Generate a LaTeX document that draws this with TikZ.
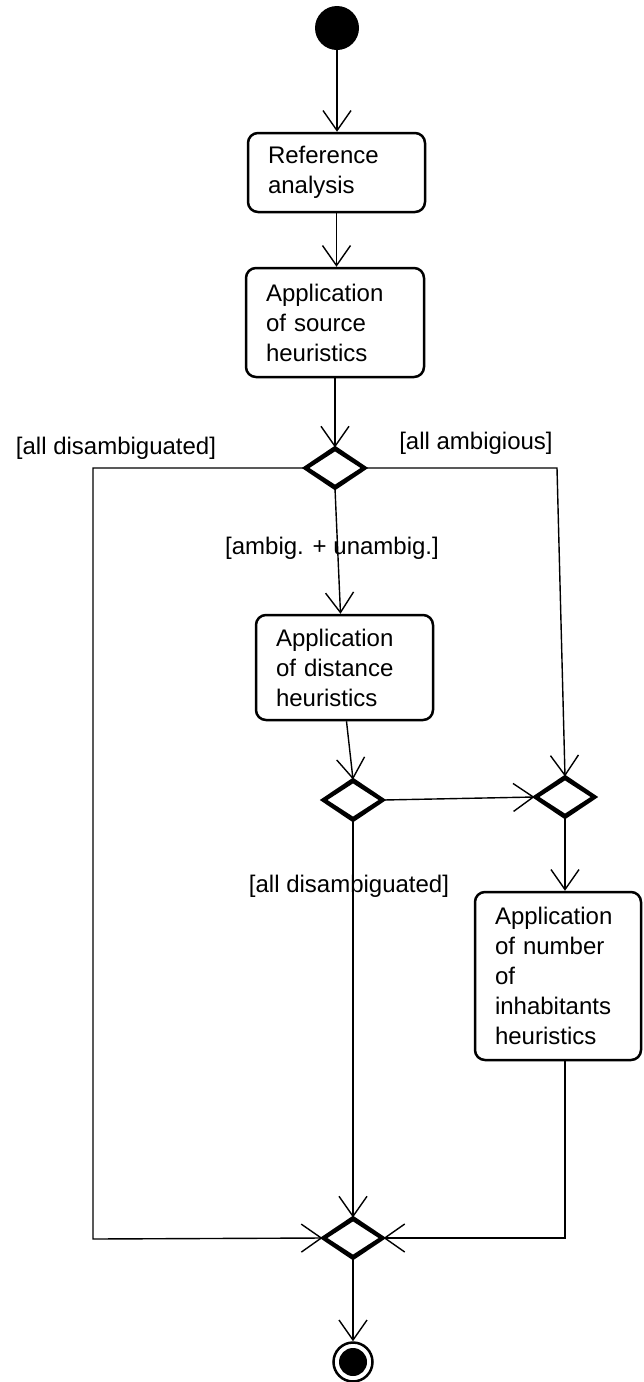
\documentclass[tikz,border=0pt]{standalone}
\usepackage{fontspec}
\setmainfont{Liberation Sans}
\usetikzlibrary{shapes.geometric,arrows.meta,calc}
\begin{document}
\begin{tikzpicture}[x=1pt,y=-1pt,
  txt/.style={font=\fontsize{24}{30}\selectfont, inner sep=0pt},
  action/.style={txt, draw, line width=2.5pt, rounded corners=10pt,
    align=left, inner xsep=20pt, inner ysep=0pt},
  branch/.style={draw, diamond, line width=3pt, minimum width=58pt,
    minimum height=38pt, inner sep=0pt, fill=white},
  flow/.style={line width=1.4pt, -{Straight Barb[length=20pt,width=28pt,line width=1.4pt]}},
  wire/.style={line width=1.4pt}
]
% canvas
\path[fill=white] (0,0) rectangle (643,1382);
\useasboundingbox (0,0) rectangle (643,1382);

% initial and final states
\node[circle, fill=black, minimum size=44pt, inner sep=0pt] (start) at (337,28) {};
\node[circle, draw, line width=2.5pt, minimum size=39pt, inner sep=0pt,
  path picture={\fill[black] (path picture bounding box.center) circle (14pt);}]
  (final) at (353,1362) {};

% actions
\node[action, text width=137pt, minimum height=79pt] (refana) at (336.5,172.5)
  {Reference\\analysis};
\node[action, text width=138pt, minimum height=109pt] (srcheur) at (335,322.5)
  {Application\\of source\\heuristics};
\node[action, text width=137pt, minimum height=105pt] (distheur) at (344.5,667.5)
  {Application\\of distance\\heuristics};
\node[action, text width=126pt, minimum height=168pt] (inhheur) at (558,976)
  {Application\\of number\\of\\inhabitants\\heuristics};

% decisions and merges
\node[branch] (dec1) at (335,468) {};
\node[branch] (dec2) at (353,800) {};
\node[branch] (mrg1) at (565,797) {};
\node[branch] (mrg2) at (353,1238) {};

% corner points
\coordinate (cl1) at (93,468);
\coordinate (cl2) at (93,1239);
\coordinate (cr1) at (557,468);
\coordinate (cr2) at (565,1238);

% guard labels
\node[txt] (gAllDis) at (116,448) {[all disambiguated]};
\node[txt] (gAllAmb) at (476,443) {[all ambigious]};
\node[txt] (gMixed) at (332,548) {[ambig. + unambig.]};
\node[txt] (gAllDis2) at (349,886) {[all disambiguated]};

% connectors
\draw[flow] (start) -- (start |- refana.north);
\draw[flow] (refana) -- (refana.south |- srcheur.north);
\draw[flow] (srcheur) -- (dec1);
\draw[flow] (dec1.south) -- ([xshift=-4pt]distheur.north);
\draw[flow] ([xshift=2pt]distheur.south) -- (dec2.north);
\draw[flow] (dec2.east) -- (mrg1.west);
\draw[flow] (dec1.east) -- (cr1) -- (mrg1.north);
\draw[flow] (mrg1.south) -- (mrg1.south |- inhheur.north);
\draw[flow] (dec1.west) -- (cl1) -- (cl2) -- (mrg2.west);
\draw[flow] (dec2.south) -- (mrg2.north);
\draw[flow] (inhheur.south -| cr2) -- (cr2) -- (mrg2.east);
\draw[flow] (mrg2.south) -- (final.north);

% redraw decision outlines over the arrow tips
\foreach \d in {dec1,dec2,mrg1,mrg2}{
  \draw[line width=3pt, line join=miter] (\d.north) -- (\d.east) -- (\d.south) -- (\d.west) -- cycle;
}
\end{tikzpicture}
\end{document}
